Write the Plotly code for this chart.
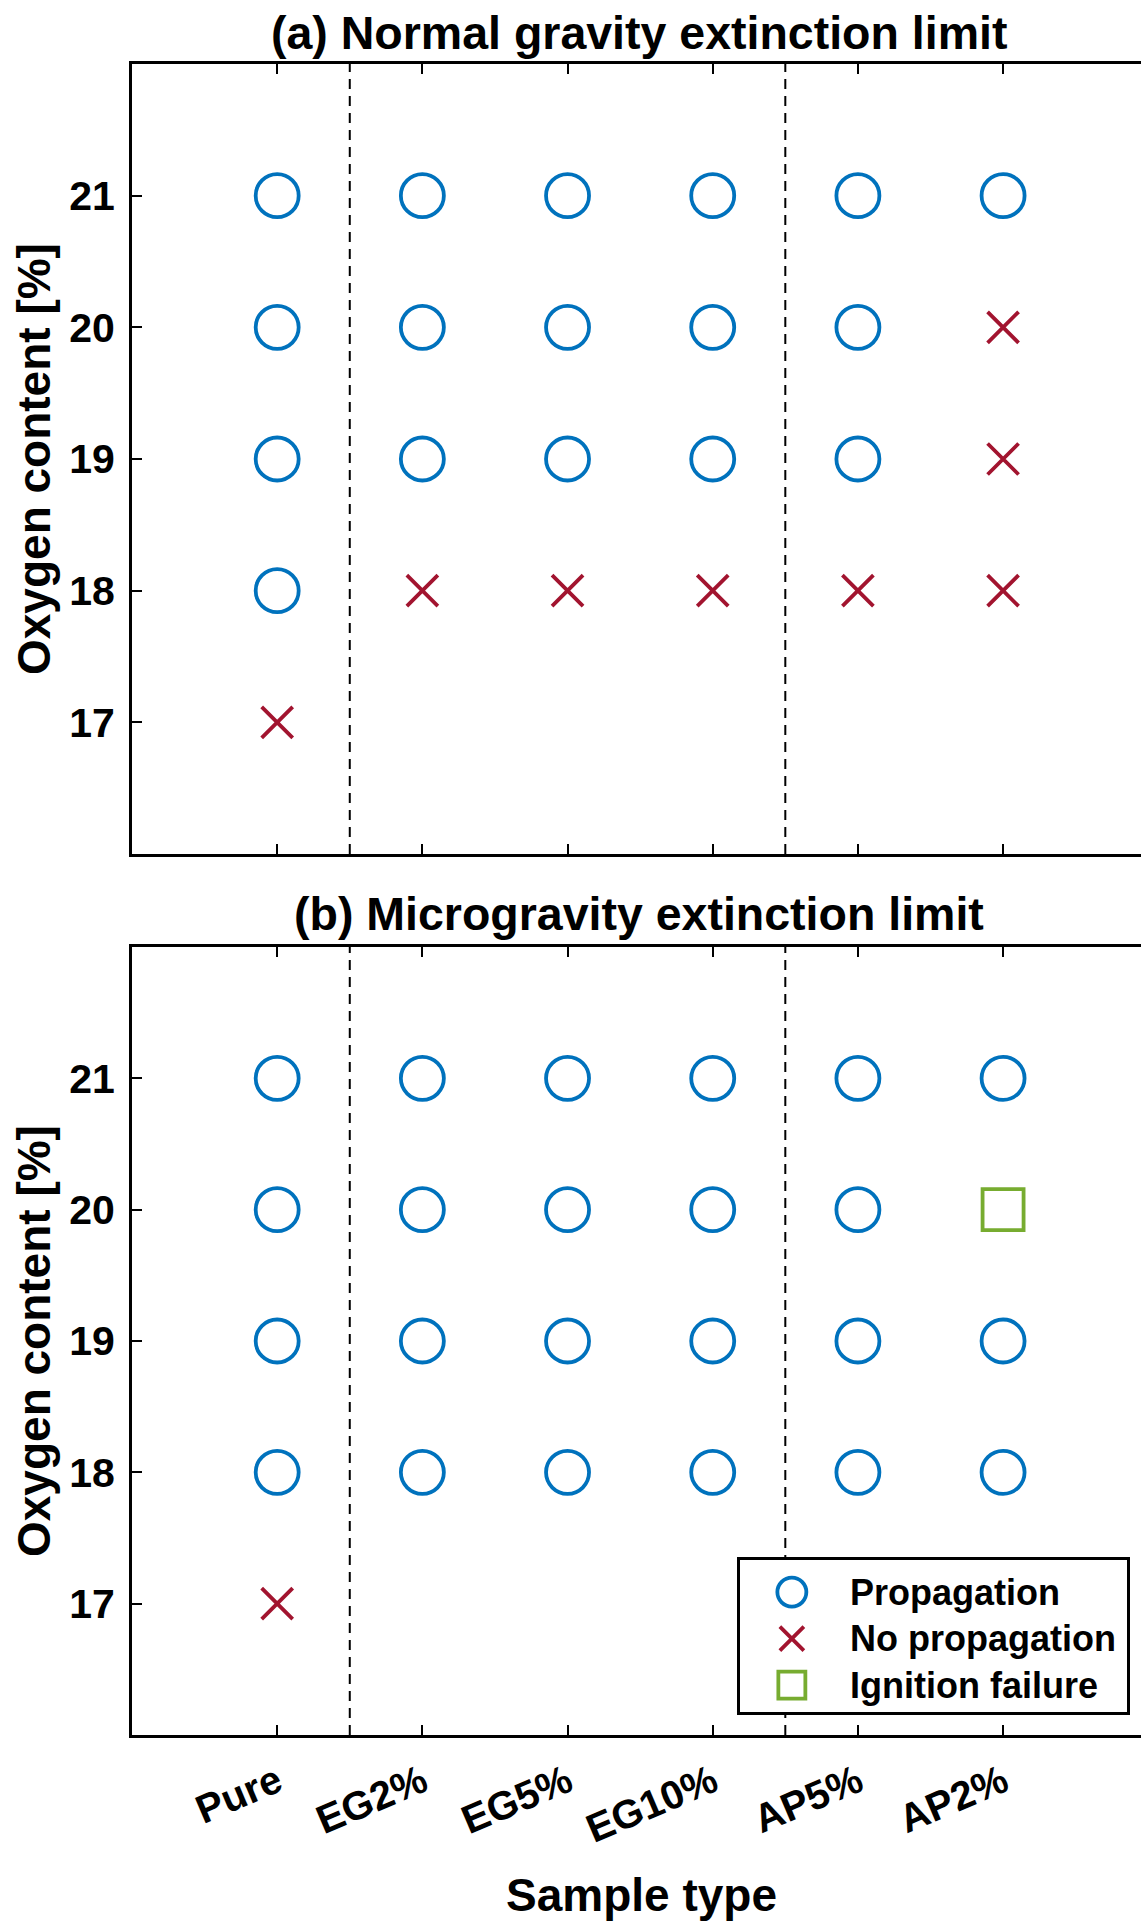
import plotly.graph_objects as go

# ---------------- data ----------------
categories = ["Pure", "EG2%", "EG5%", "EG10%", "AP5%", "AP2%"]
oxygen_ticks = [17, 18, 19, 20, 21]
group_dividers = [1.5, 4.5]

# (a) Normal gravity
ng_prop_cat = ["Pure", "Pure", "Pure", "Pure",
               "EG2%", "EG2%", "EG2%",
               "EG5%", "EG5%", "EG5%",
               "EG10%", "EG10%", "EG10%",
               "AP5%", "AP5%", "AP5%",
               "AP2%"]
ng_prop_o2 = [18, 19, 20, 21,
              19, 20, 21,
              19, 20, 21,
              19, 20, 21,
              19, 20, 21,
              21]
ng_noprop_cat = ["Pure", "EG2%", "EG5%", "EG10%", "AP5%", "AP2%", "AP2%", "AP2%"]
ng_noprop_o2 = [17, 18, 18, 18, 18, 18, 19, 20]

# (b) Microgravity
mg_prop_cat = ["Pure", "Pure", "Pure", "Pure",
               "EG2%", "EG2%", "EG2%", "EG2%",
               "EG5%", "EG5%", "EG5%", "EG5%",
               "EG10%", "EG10%", "EG10%", "EG10%",
               "AP5%", "AP5%", "AP5%", "AP5%",
               "AP2%", "AP2%", "AP2%"]
mg_prop_o2 = [18, 19, 20, 21,
              18, 19, 20, 21,
              18, 19, 20, 21,
              18, 19, 20, 21,
              18, 19, 20, 21,
              18, 19, 21]
mg_noprop_cat = ["Pure"]
mg_noprop_o2 = [17]
mg_ignfail_cat = ["AP2%"]
mg_ignfail_o2 = [20]

legend_labels = ["Propagation", "No propagation", "Ignition failure"]

# ---------------- style ----------------
W, H = 1141, 1923
FONT = "Liberation Sans, Arial, Helvetica, sans-serif"
BLUE = "#0072BD"
RED = "#A2142F"
GREEN = "#77AC30"

L_PX = 132          # left edge of the axes (px)
XMAX = 6.95         # right edge visible in image


def py(p):  # pixel from top -> paper y
    return 1 - p / H


def px(p):  # pixel from left -> paper x
    return (p - L_PX) / (W - L_PX)


def xpos(cats):
    return [categories.index(c) + 1 for c in cats]


circle = dict(symbol="circle-open", size=43, color=BLUE, line=dict(width=3.8, color=BLUE))
cross = dict(symbol="x-thin-open", size=31, color=RED, line=dict(width=3.8, color=RED))
square = dict(symbol="square-open", size=41, color=GREEN, line=dict(width=3.8, color=GREEN))

fig = go.Figure()

fig.add_trace(go.Scatter(x=xpos(ng_prop_cat), y=ng_prop_o2, mode="markers", marker=circle,
                         xaxis="x", yaxis="y", showlegend=False, name="Propagation"))
fig.add_trace(go.Scatter(x=xpos(ng_noprop_cat), y=ng_noprop_o2, mode="markers", marker=cross,
                         xaxis="x", yaxis="y", showlegend=False, name="No propagation"))
fig.add_trace(go.Scatter(x=xpos(mg_prop_cat), y=mg_prop_o2, mode="markers", marker=circle,
                         xaxis="x2", yaxis="y2", showlegend=False, name="Propagation"))
fig.add_trace(go.Scatter(x=xpos(mg_noprop_cat), y=mg_noprop_o2, mode="markers", marker=cross,
                         xaxis="x2", yaxis="y2", showlegend=False, name="No propagation"))
fig.add_trace(go.Scatter(x=xpos(mg_ignfail_cat), y=mg_ignfail_o2, mode="markers", marker=square,
                         xaxis="x2", yaxis="y2", showlegend=False, name="Ignition failure"))

# custom legend (inset axes)
leg_rows = list(range(len(legend_labels) - 1, -1, -1))
leg_markers = [
    dict(symbol="circle-open", size=29, color=BLUE, line=dict(width=3.8, color=BLUE)),
    dict(symbol="x-thin-open", size=24, color=RED, line=dict(width=3.8, color=RED)),
    dict(symbol="square-open", size=27, color=GREEN, line=dict(width=3.8, color=GREEN)),
]
LEG_MX = 0.134
for lab, row, mk in zip(legend_labels, leg_rows, leg_markers):
    fig.add_trace(go.Scatter(x=[LEG_MX], y=[row], mode="markers", marker=mk,
                             xaxis="x3", yaxis="y3", showlegend=False, name=lab, hoverinfo="skip"))

ytickfont = dict(family=FONT, size=41, color="black", weight="bold")
xtickfont = dict(family=FONT, size=40, color="black", weight="bold")

common_x = dict(range=[0, XMAX], tickvals=list(range(1, len(categories) + 1)),
                ticktext=categories, ticks="inside", ticklen=10, tickwidth=2,
                tickcolor="black", showline=True, linecolor="black", linewidth=3,
                mirror="ticks", showgrid=False, zeroline=False, tickfont=xtickfont)
common_y = dict(range=[16, 22], tickvals=oxygen_ticks, ticks="inside", ticklen=10,
                tickwidth=2, tickcolor="black", showline=True, linecolor="black",
                linewidth=3, mirror=False, showgrid=False, zeroline=False,
                tickfont=ytickfont, ticklabelstandoff=6)

A_TOP, A_BOT = 64, 854
B_TOP, B_BOT = 947, 1735

fig.update_layout(
    width=W, height=H,
    margin=dict(l=L_PX, r=0, t=0, b=0),
    paper_bgcolor="white", plot_bgcolor="rgba(0,0,0,0)",
    font=dict(family=FONT, color="black", weight="bold"),
    showlegend=False,
    xaxis=dict(common_x, domain=[0, 1], anchor="y", showticklabels=False),
    yaxis=dict(common_y, domain=[py(A_BOT), py(A_TOP)], anchor="x"),
    xaxis2=dict(common_x, domain=[0, 1], anchor="y2", tickangle=-23, ticklabelstandoff=5),
    yaxis2=dict(common_y, domain=[py(B_BOT), py(B_TOP)], anchor="x2"),
    yaxis4=dict(range=[16, 22], tickvals=oxygen_ticks, overlaying="y", side="right",
                anchor="x", ticks="inside", ticklen=10, tickwidth=2, tickcolor="black",
                showticklabels=False, showline=False, showgrid=False, zeroline=False),
    yaxis5=dict(range=[16, 22], tickvals=oxygen_ticks, overlaying="y2", side="right",
                anchor="x2", ticks="inside", ticklen=10, tickwidth=2, tickcolor="black",
                showticklabels=False, showline=False, showgrid=False, zeroline=False),
    xaxis3=dict(domain=[px(740), px(1127)], range=[0, 1], anchor="y3", showline=True,
                mirror=True, linecolor="black", linewidth=3, showticklabels=False,
                ticks="", showgrid=False, zeroline=False, fixedrange=True),
    yaxis3=dict(domain=[py(1712), py(1560)], range=[-0.58, 2.69], anchor="x3", showline=True,
                mirror=True, linecolor="black", linewidth=3, showticklabels=False,
                ticks="", showgrid=False, zeroline=False, fixedrange=True),
)

# group dividers
for xr, yr in (("x", "y domain"), ("x2", "y2 domain")):
    for d in group_dividers:
        fig.add_shape(type="line", xref=xr, yref=yr, x0=d, x1=d, y0=0, y1=1,
                      line=dict(color="black", width=2, dash="10px,7px"), layer="below")
# legend background (covers the divider)
fig.add_shape(type="rect", xref="x3 domain", yref="y3 domain", x0=0, x1=1, y0=0, y1=1,
              fillcolor="white", line=dict(width=0), layer="below")

annots = []
for lab, row in zip(legend_labels, leg_rows):
    annots.append(dict(x=0.279, y=row, xref="x3", yref="y3", text=lab, showarrow=False,
                       xanchor="left", yanchor="middle",
                       font=dict(family=FONT, size=36, color="black", weight="bold")))

title_font = dict(family=FONT, size=46.5, color="black", weight="bold")
label_font = dict(family=FONT, size=46, color="black", weight="bold")
annots += [
    dict(x=px(639), y=py(33), xref="paper", yref="paper", text="(a) Normal gravity extinction limit",
         showarrow=False, xanchor="center", yanchor="middle", font=title_font),
    dict(x=px(639), y=py(914), xref="paper", yref="paper", text="(b) Microgravity extinction limit",
         showarrow=False, xanchor="center", yanchor="middle", font=title_font),
    dict(x=px(34), y=py((A_TOP + A_BOT) / 2), xref="paper", yref="paper",
         text="Oxygen content [%]", textangle=-90, showarrow=False,
         xanchor="center", yanchor="middle", font=label_font),
    dict(x=px(34), y=py((B_TOP + B_BOT) / 2), xref="paper", yref="paper",
         text="Oxygen content [%]", textangle=-90, showarrow=False,
         xanchor="center", yanchor="middle", font=label_font),
    dict(x=px(641), y=py(1895), xref="paper", yref="paper", text="Sample type",
         showarrow=False, xanchor="center", yanchor="middle", font=label_font),
]
fig.update_layout(annotations=annots)

fig.write_html("out.html")
